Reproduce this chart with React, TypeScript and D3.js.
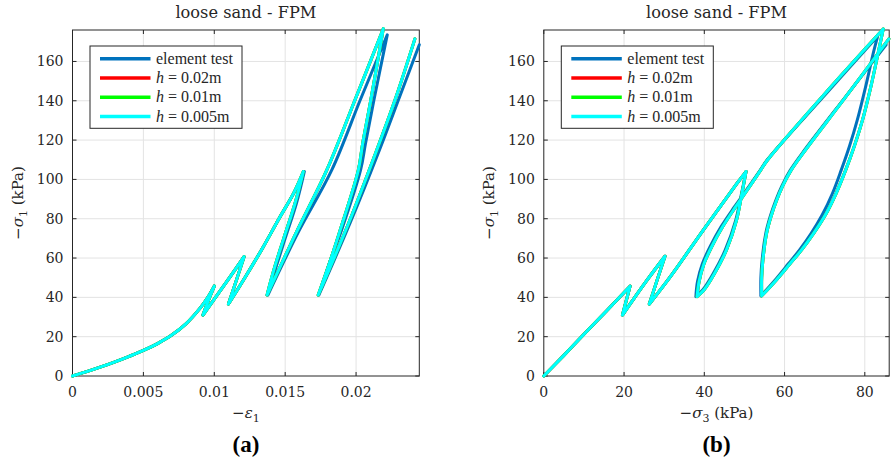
import React from 'react';
import * as d3 from 'd3';

type Pt = [number, number];

// ---------- texts & ticks ----------
const panelTitle = 'loose sand - FPM';
const sigma1Ticks = [0, 20, 40, 60, 80, 100, 120, 140, 160];
const strainTicks = [0, 0.005, 0.01, 0.015, 0.02];
const strainTickLabels = ['0', '0.005', '0.01', '0.015', '0.02'];
const sigma3Ticks = [0, 20, 40, 60, 80];
const sigma3TickLabels = ['0', '20', '40', '60', '80'];
const seriesNames = ['element test', '0.02m', '0.01m', '0.005m'];
const seriesColors = ['#0072BD', '#FF0000', '#00FF00', '#00FFFF'];

// ---------- data: (a) -eps1 vs -sigma1 ----------
const fpmStrainPath: Pt[] = [
  [0, 0], [0.001, 2.2], [0.002, 4.6], [0.003, 7.2], [0.004, 10.0], [0.005, 13.0], [0.006, 16.5],
  [0.007, 20.8], [0.008, 26.5], [0.009, 34.5], [0.0095, 39.5], [0.01, 45.7],
  [0.00955, 37.8], [0.0092, 31.0],
  [0.0103, 42.2], [0.0112, 51.3], [0.0121, 60.7],
  [0.01155, 48.5], [0.011, 36.6],
  [0.0122, 50.5], [0.0134, 65.0], [0.0146, 80.5], [0.0156, 93.0], [0.01628, 104],
  [0.0157, 88], [0.0149, 70], [0.0142, 54], [0.01372, 41.2],
  [0.01577, 72.8], [0.01794, 104.8], [0.01993, 140.5], [0.02192, 176.6],
  [0.02103, 140], [0.02046, 118], [0.02016, 104.8], [0.0189, 74.7], [0.0181, 57], [0.01733, 41.2],
  [0.0195, 78.2], [0.02146, 115], [0.02285, 142.6], [0.02415, 171.5],
];

const elementStrainPath: Pt[] = [
  [0, 0], [0.001, 2.2], [0.002, 4.6], [0.003, 7.2], [0.004, 10.0], [0.005, 13.0], [0.006, 16.5],
  [0.007, 20.8], [0.008, 26.5], [0.009, 34.5], [0.0095, 39.5], [0.01, 45.7],
  [0.00955, 37.8], [0.0092, 31.0],
  [0.0103, 42.2], [0.0112, 51.3], [0.0121, 60.7],
  [0.01155, 48.5], [0.011, 36.6],
  [0.0122, 50.5], [0.0134, 65.0], [0.0146, 80.5], [0.0156, 93.0], [0.01635, 104],
  [0.0158, 88], [0.015, 70], [0.0143, 54], [0.01378, 41.2],
  [0.0159, 72.8], [0.01829, 104.8], [0.0203, 140.5], [0.0222, 173.5],
  [0.02125, 140], [0.02066, 118], [0.02032, 104.8], [0.019, 74.7], [0.0181, 57], [0.01738, 41.2],
  [0.0196, 78.2], [0.02165, 115], [0.0231, 142.6], [0.02446, 168.5],
];

// ---------- data: (b) -sigma3 vs -sigma1 ----------
const fpmStressPath: Pt[] = [
  [0, 0], [5, 10.5], [10, 21.2], [15.5, 32.8], [21.5, 45.7],
  [20.5, 38.0], [19.6, 31.0],
  [22.5, 39.5], [26, 49.5], [30.2, 60.9],
  [28.2, 48.5], [26.3, 36.6],
  [31.5, 50.4], [39.7, 74.1], [48.1, 97.8], [50.4, 104],
  [49.3, 92], [48, 79], [45.5, 64], [42.5, 52], [40, 44], [38.2, 40.4],
  [38.7, 48], [39.9, 57], [41.9, 66], [44.6, 76], [47.8, 86], [50.5, 94], [54.0, 104.6],
  [55.8, 110], [70, 143.5], [84.6, 176.5],
  [83.4, 165], [81.6, 148], [79.4, 130], [77.4, 117], [75.2, 104.6], [72.8, 92.7],
  [70.2, 82], [67.2, 72.4], [64.2, 64], [61.4, 57.2], [57.8, 48.5], [54.3, 40.8],
  [54.3, 50], [54.6, 58.9], [55.5, 72.4], [56.6, 81], [58.0, 89.3], [59.6, 97], [61.6, 104.6],
  [65.1, 114.7], [75, 141.3], [86.0, 171.5],
];

const elementStressPath: Pt[] = [
  [0, 0], [5, 10.5], [10, 21.2], [15.5, 32.8], [21.5, 45.7],
  [20.5, 38.0], [19.6, 31.0],
  [22.5, 39.5], [26, 49.5], [30.2, 60.9],
  [28.2, 48.5], [26.3, 36.6],
  [31.5, 50.4], [39.7, 74.1], [48.1, 97.8], [50.4, 104],
  [49.2, 92], [47.8, 79], [45.2, 64], [42.2, 52], [39.7, 44], [37.9, 40.4],
  [38.3, 48], [39.5, 57], [41.5, 66], [44.2, 76], [47.5, 86], [50.3, 94], [53.9, 104.6],
  [55.7, 110], [70, 142.8], [83.2, 172.8],
  [82.2, 165], [80.3, 148], [78.1, 130], [76.2, 117], [74.1, 104.6], [71.9, 92.7],
  [69.4, 82], [66.6, 72.4], [63.7, 64], [61.0, 57.2], [57.5, 48.5], [54.1, 40.8],
  [54.1, 50], [54.4, 58.9], [55.3, 72.4], [56.4, 81], [57.8, 89.3], [59.4, 97], [61.4, 104.6],
  [64.9, 114.7], [75, 141.5], [85.3, 168.5],
];

// ---------- layout ----------
const W = 891;
const H = 463;
const plotTop = 30;
const plotBottom = 376;
const sigma1Max = 176;
const FONT = "'DejaVu Serif', serif";

type PanelSpec = {
  left: number;
  right: number;
  xMax: number;
  xTicks: number[];
  xTickLabels: string[];
  series: Pt[][];
  xLabel: React.ReactNode;
  tag: string;
};

// split a load path into monotonic (loading / unloading) branches
function branches(path: Pt[]): Pt[][] {
  const out: Pt[][] = [];
  let cur: Pt[] = [path[0]];
  let dir = 0;
  for (let i = 1; i < path.length; i++) {
    const d = Math.sign(path[i][1] - path[i - 1][1]);
    if (dir !== 0 && d !== 0 && d !== dir) {
      out.push(cur);
      cur = [path[i - 1]];
    }
    if (d !== 0) dir = d;
    cur.push(path[i]);
  }
  out.push(cur);
  return out;
}

function Panel({ spec }: { spec: PanelSpec }) {
  const x = d3.scaleLinear().domain([0, spec.xMax]).range([spec.left, spec.right]);
  const y = d3.scaleLinear().domain([0, sigma1Max]).range([plotBottom, plotTop]);
  const line = d3
    .line<Pt>()
    .x((d) => x(d[0]))
    .y((d) => y(d[1]))
    .curve(d3.curveCatmullRom.alpha(0.5));
  const pathD = (p: Pt[]) => branches(p).map((b) => line(b) || '').join('');
  const cx = (spec.left + spec.right) / 2;
  const tickLen = 4;
  const axisColor = '#262626';
  const gridColor = '#e3e3e3';
  const lgX = spec.left + 17.5;
  const lgY = 46;
  const rowY = (i: number) => lgY + 12.7 + i * 19.3;

  return (
    <g>
      {spec.xTicks.slice(1).map((t) => (
        <line key={'gx' + t} x1={x(t)} x2={x(t)} y1={plotTop} y2={plotBottom} stroke={gridColor} strokeWidth={1} />
      ))}
      {sigma1Ticks.slice(1).map((t) => (
        <line key={'gy' + t} x1={spec.left} x2={spec.right} y1={y(t)} y2={y(t)} stroke={gridColor} strokeWidth={1} />
      ))}
      <rect x={spec.left} y={plotTop} width={spec.right - spec.left} height={plotBottom - plotTop} fill="none" stroke={axisColor} strokeWidth={1} />
      {spec.xTicks.map((t) => (
        <g key={'tx' + t}>
          <line x1={x(t)} x2={x(t)} y1={plotBottom} y2={plotBottom - tickLen} stroke={axisColor} />
          <line x1={x(t)} x2={x(t)} y1={plotTop} y2={plotTop + tickLen} stroke={axisColor} />
        </g>
      ))}
      {sigma1Ticks.map((t) => (
        <g key={'ty' + t}>
          <line x1={spec.left} x2={spec.left + tickLen} y1={y(t)} y2={y(t)} stroke={axisColor} />
          <line x1={spec.right} x2={spec.right - tickLen} y1={y(t)} y2={y(t)} stroke={axisColor} />
        </g>
      ))}
      {spec.xTicks.map((t, i) => (
        <text key={'lx' + t} x={x(t)} y={plotBottom + 21} textAnchor="middle" fontFamily={FONT} fontSize={14} fill="#262626">
          {spec.xTickLabels[i]}
        </text>
      ))}
      {sigma1Ticks.map((t) => (
        <text key={'ly' + t} x={spec.left - 9} y={y(t) + 5} textAnchor="end" fontFamily={FONT} fontSize={14} fill="#262626">
          {t}
        </text>
      ))}
      {spec.series.map((s, i) => (
        <path key={'s' + i} d={pathD(s)} fill="none" stroke={seriesColors[i]} strokeWidth={3} strokeLinejoin="round" strokeLinecap="round" />
      ))}
      <text x={cx} y={18} textAnchor="middle" fontFamily={FONT} fontSize={16.2} fill="#262626">
        {panelTitle}
      </text>
      <text transform={`translate(${spec.left - 50},${(plotTop + plotBottom) / 2}) rotate(-90)`} textAnchor="middle" fontFamily={FONT} fontSize={15} fill="#262626">
        −<tspan fontStyle="italic">σ</tspan>
        <tspan fontSize={11} dy={4}>1</tspan>
        <tspan dy={-4}> (kPa)</tspan>
      </text>
      <text x={cx} y={418} textAnchor="middle" fontFamily={FONT} fontSize={15} fill="#262626">
        {spec.xLabel}
      </text>
      <text x={cx} y={452} textAnchor="middle" fontFamily="'Liberation Serif', serif" fontWeight="bold" fontSize={23} fill="#000">
        {spec.tag}
      </text>
      <rect x={lgX} y={lgY} width={152} height={82.3} fill="#fff" stroke={axisColor} strokeWidth={1} />
      {seriesNames.map((n, i) => (
        <g key={'lg' + i}>
          <line x1={lgX + 10} x2={lgX + 60.5} y1={rowY(i)} y2={rowY(i)} stroke={seriesColors[i]} strokeWidth={3.5} />
          <text x={lgX + 66} y={rowY(i) + 5} fontFamily="'Liberation Serif', serif" fontSize={16} fill="#262626">
            {i === 0 ? (
              n
            ) : (
              <>
                <tspan fontStyle="italic">h</tspan>
                <tspan> = {n}</tspan>
              </>
            )}
          </text>
        </g>
      ))}
    </g>
  );
}

export default function App() {
  const panels: PanelSpec[] = [
    {
      left: 72.5,
      right: 419.3,
      xMax: 0.02446,
      xTicks: strainTicks,
      xTickLabels: strainTickLabels,
      series: [elementStrainPath, fpmStrainPath, fpmStrainPath, fpmStrainPath],
      xLabel: (
        <>
          −<tspan fontStyle="italic">ε</tspan>
          <tspan fontSize={11} dy={4}>1</tspan>
        </>
      ),
      tag: '(a)',
    },
    {
      left: 543.8,
      right: 889.2,
      xMax: 86.08,
      xTicks: sigma3Ticks,
      xTickLabels: sigma3TickLabels,
      series: [elementStressPath, fpmStressPath, fpmStressPath, fpmStressPath],
      xLabel: (
        <>
          −<tspan fontStyle="italic">σ</tspan>
          <tspan fontSize={11} dy={4}>3</tspan>
          <tspan dy={-4}> (kPa)</tspan>
        </>
      ),
      tag: '(b)',
    },
  ];
  return (
    <svg width={W} height={H} style={{ position: 'absolute', left: 0, top: 0, background: '#fff' }}>
      <rect x={0} y={0} width={W} height={H} fill="#fff" />
      {panels.map((p, i) => (
        <Panel key={i} spec={p} />
      ))}
    </svg>
  );
}
